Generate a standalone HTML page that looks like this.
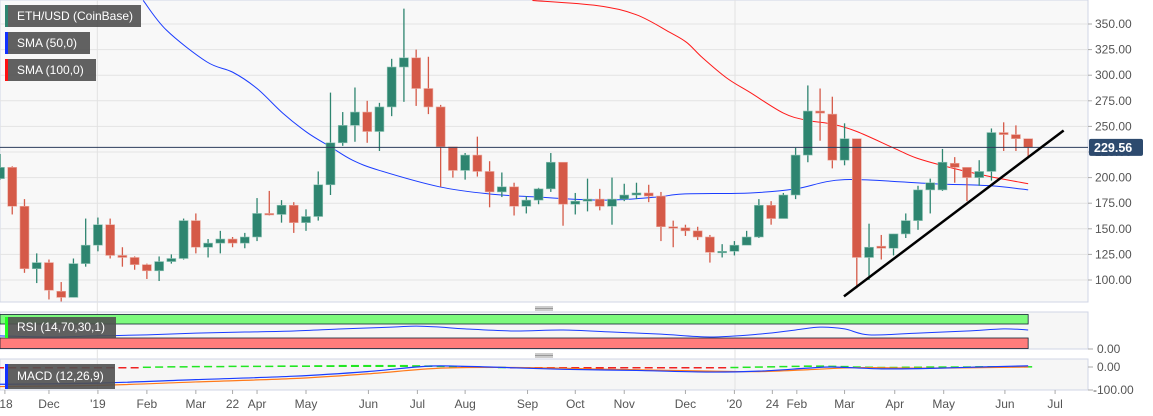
<!DOCTYPE html>
<html><head><meta charset="utf-8">
<style>
html,body{margin:0;padding:0;background:#fff;}
body{width:1153px;height:416px;overflow:hidden;position:relative;font-family:"Liberation Sans",sans-serif;}
svg{position:absolute;left:0;top:0;}
.lg{position:absolute;left:5px;height:22px;background:rgba(80,80,80,0.9);color:#fff;font-size:12px;line-height:22px;padding-left:12px;box-sizing:border-box;white-space:nowrap;overflow:hidden;}
.lg i{position:absolute;left:0;top:0;width:3px;height:100%;}
</style></head>
<body>
<svg id="chart" width="1153" height="416"></svg>
<div class="lg" style="top:5px;width:136px"><i style="background:#2e8570"></i>ETH/USD (CoinBase)</div>
<div class="lg" style="top:32px;width:85px"><i style="background:#1030ff"></i>SMA (50,0)</div>
<div class="lg" style="top:59px;width:91px"><i style="background:#ff1010"></i>SMA (100,0)</div>
<div class="lg" style="top:317px;width:111px;height:21px;line-height:21px"><i style="background:#20ff20"></i>RSI (14,70,30,1)</div>
<div class="lg" style="top:364px;width:110px;height:25px;line-height:25px"><i style="background:#1030ff"></i>MACD (12,26,9)</div>
<script>
const opens=[199,210,172,111,117,89,83,116,134,154,124,122,115,109,118,121,158,132,136,140,136,142,165,164,173,156,162,193,234,251,264,245,269,308,317,287,269,230,207,222,206,186,191,172,178,189,215,174,177,179,172,179,183,185,182,152,151,148,142,127,128,134,142,173,160,183,222,265,262,217,238,122,133,131,145,158,188,188,214,210,200,206,244,242,238];
const closes=[210,172,111,117,90,83,116,134,154,124,122,115,109,118,121,158,132,136,140,136,142,165,164,173,156,162,193,234,251,264,245,269,308,317,287,269,230,207,222,206,186,191,172,178,189,215,174,177,179,172,179,183,185,182,152,151,148,142,127,128,134,142,173,160,183,222,265,263,217,238,122,132,131,145,158,188,195,215,210,200,206,244,242,238,229.56];
const highs=[223,211,179,126,120,98,121,160,161,160,132,123,116,123,125,160,165,140,148,142,146,180,187,178,176,169,206,283,264,288,275,273,316,365,325,318,271,230,224,240,216,205,195,182,190,224,215,185,199,189,200,194,195,193,186,158,154,152,144,135,138,148,179,177,185,229,290,287,279,253,238,155,144,145,165,192,199,228,220,210,217,248,254,251,238];
const lows=[198,164,107,97,81,79,83,113,128,121,113,110,101,99,116,120,126,122,126,132,131,138,163,156,146,148,158,183,231,235,234,226,260,274,270,262,191,200,198,201,171,181,163,165,174,186,153,164,167,168,154,177,179,176,138,132,143,139,117,122,124,134,141,154,160,179,215,236,209,212,92,100,120,124,141,149,165,187,195,177,192,197,226,226,220];
const sma50Idx=[11.7,13.6,16.9,19.0,21.0,23.1,25.1,27.0,28.8,31.0,35.9,40.0,43.9,49.3,53.7,55.8,61.3,65.0,69.0,76.2,80.9,84];
const sma50Val=[373,344,313,303,287,263,244,230,217,207,191,184,181,178,181,184,185,189,198,194,192,188];
const sma100Idx=[43.5,48.8,52.0,54.7,56.1,57.4,59.4,61.3,64.0,65.9,68.1,70.0,73.0,74.9,77.9,80.9,84];
const sma100Val=[373,368,359,342,332,317,297,283,263,256,252,245,229,219,209,201,194];
const rsiIdx=[0,4,8,12,16,20,24,28,32,34,36,38,42,46,50,54,58,62,65,67,69,71,75,79,82,84];
const rsiVal=[36,33,36,39,44,47,50,56,61,64,61,56,50,53,47,41,33,41,53,61,56,39,44,50,56,53];
const macdIdx=[0,8,16,24,30,34,36,40,46,52,58,62,66,68,72,76,80,84];
const macdVal=[-75,-70,-55,-40,-20,0,5,0,-10,-15,-22,-18,-5,0,-8,-6,0,5];
const sigIdx=[0,8,16,24,30,36,42,50,58,62,66,70,76,84];
const sigVal=[-85,-80,-65,-50,-30,-5,-2,-10,-18,-20,-12,-3,-5,0];
const hist=[-3,-3,-3,-3,-3,-3,-3,-3,-3,-3,-2,-2,2,3,4,4,5,5,5,6,6,6,6,7,7,7,8,8,9,9,9,9,9,9,8,7,6,5,4,3,2,1,-1,-2,-3,-3,-4,-4,-4,-4,-4,-4,-4,-4,-5,-5,-5,-4,-3,-2,1,2,3,4,5,6,7,7,6,5,3,2,1,1,2,2,3,3,3,3,4,4,4,4,4];
const priceTicks=[100,125,150,175,200,225,250,275,300,325,350];
const xTickIdx=[0.4,4.0,8.0,12.0,16.0,19.0,21.0,25.0,30.1,34.1,38.0,43.1,47.0,51.0,56.0,60.0,63.1,65.1,69.0,73.1,77.1,82.1,86.2];
const xTickLbl=["'18","Dec","'19","Feb","Mar","22","Apr","May","Jun","Jul","Aug","Sep","Oct","Nov","Dec","'20","24","Feb","Mar","Apr","May","Jun","Jul"];
const yearIdx=[7.95,60.05];
const trendIdx=[68.95,86.9];const trendVal=[84,246];
const lastPrice=229.56;

const NS="http://www.w3.org/2000/svg";
const svg=document.getElementById('chart');
const PR=1088;
const X=i=>i*12.24;
const Y=p=>24+(350-p)*1.024;
const YR=v=>338-(v-30)*0.35;
const YM=v=>367-v*0.23;
function mk(tag,attrs,parent){const e=document.createElementNS(NS,tag);for(const k in attrs)e.setAttribute(k,attrs[k]);(parent||svg).appendChild(e);return e;}
function clip(id,y,h){const d=mk('clipPath',{id:id});mk('rect',{x:0,y:y,width:PR,height:h},d);}
clip('cm',0,302);clip('cr',312,37);clip('cq',359,31);
let e;
e=mk('rect',{x:0,y:0,width:PR,height:302,fill:'#f8f8f8',stroke:'#d0d6e6'});

e=mk('rect',{x:0,y:312,width:PR,height:37,fill:'#f6f6f6',stroke:'#d0d6e6'});

e=mk('rect',{x:0,y:359,width:PR,height:31,fill:'#f6f6f6',stroke:'#d0d6e6'});

[307,354].forEach(s=>{for(let k=0;k<3;k++){const l=mk('line',{x1:535,x2:553,y1:s+k*1.5,y2:s+k*1.5,stroke:'#777','stroke-width':0.8});}});
priceTicks.forEach(p=>{const l=mk('line',{x1:0,x2:PR,y1:Y(p),y2:Y(p),stroke:'#e3e3e3'});
 const t=mk('text',{x:1095,y:Y(p)+4,'font-size':12,fill:'#555'});t.textContent=p.toFixed(2);
 mk('line',{x1:PR,x2:PR+4,y1:Y(p),y2:Y(p),stroke:'#aaa'});});
yearIdx.forEach(i=>{const l=mk('line',{x1:X(i),x2:X(i),y1:0,y2:390,stroke:'#e2e2e2'});});
xTickIdx.forEach((i,k)=>{mk('line',{x1:X(i),x2:X(i),y1:390,y2:394,stroke:'#aaa'});
 const t=mk('text',{x:X(i),y:408,'font-size':12,fill:'#555','text-anchor':'middle'});t.textContent=xTickLbl[k];});
function line(idx,val,fy,color,w,cp,name){
 const P=idx.map((i,k)=>[X(i),fy(val[k])]);
 let d='M'+P[0][0]+','+P[0][1];
 for(let k=0;k<P.length-1;k++){const p0=P[Math.max(0,k-1)],p1=P[k],p2=P[k+1],p3=P[Math.min(P.length-1,k+2)];
  const c1=[p1[0]+(p2[0]-p0[0])/6,p1[1]+(p2[1]-p0[1])/6],c2=[p2[0]-(p3[0]-p1[0])/6,p2[1]-(p3[1]-p1[1])/6];
  d+=' C'+c1[0]+','+c1[1]+' '+c2[0]+','+c2[1]+' '+p2[0]+','+p2[1];}
 const pl=mk('path',{d:d,fill:'none',stroke:color,'stroke-width':w,'clip-path':cp});return pl;}
line(sma100Idx,sma100Val,Y,'#ff1a1a',1,'url(#cm)','sma-100-line');
line(sma50Idx,sma50Val,Y,'#1a3cff',1,'url(#cm)','sma-50-line');
const g=mk('g',{'clip-path':'url(#cm)'});

opens.forEach((o,i)=>{const c=closes[i];const up=c>=o;const col=up?'#2e8570':'#d55a48';const cx=X(i);
 mk('line',{x1:cx,x2:cx,y1:Y(highs[i]),y2:Y(lows[i]),stroke:col,'stroke-width':1.3},g);
 const top=Y(Math.max(o,c)),bot=Y(Math.min(o,c));
 const r=mk('rect',{x:cx-4.5,y:top,width:9,height:Math.max(1.5,bot-top),fill:col,stroke:up?'#8fc4b5':'#eba89d','stroke-width':0.6},g);
 });
e=mk('line',{x1:0,x2:PR,y1:Y(lastPrice),y2:Y(lastPrice),stroke:'#2c3e5c','stroke-width':1});

e=mk('rect',{x:1089,y:Y(lastPrice)-8.5,width:54,height:17,fill:'#2d4a6e',rx:2});

e=mk('text',{x:1094,y:Y(lastPrice)+4.5,'font-size':12.5,'font-weight':'bold',fill:'#fff'});e.textContent=lastPrice.toFixed(2);

e=mk('line',{x1:X(trendIdx[0]),y1:Y(trendVal[0]),x2:X(trendIdx[1]),y2:Y(trendVal[1]),stroke:'#000','stroke-width':2.5});

e=mk('rect',{x:0,y:YR(100)+1,width:X(84),height:YR(70)-YR(100)-1,fill:'#7dfa7d',stroke:'#123',"stroke-width":0.8});

e=mk('rect',{x:0,y:YR(30),width:X(84),height:YR(0)-YR(30),fill:'#ff7c7c',stroke:'#123',"stroke-width":0.8});

line(rsiIdx,rsiVal,YR,'#1a3cff',1,'url(#cr)','rsi-line');
mk('line',{x1:PR,x2:PR+5,y1:349,y2:349,stroke:'#aaa'});
e=mk('text',{x:1097,y:353,'font-size':12,fill:'#555'});e.textContent='0.00';
const hg=mk('g',{'clip-path':'url(#cq)'});
hist.forEach((v,i)=>{const y0=YM(0),y1=YM(v);const r=mk('rect',{x:X(i)-4,y:Math.min(y0,y1),width:8,height:Math.max(1.5,Math.abs(y1-y0)),fill:v>=0?'#22e622':'#ee2222'},hg);});
line(sigIdx,sigVal,YM,'#ff7a1a',1.2,'url(#cq)','macd-signal-line');
line(macdIdx,macdVal,YM,'#1a3cff',1.2,'url(#cq)','macd-line');
mk('line',{x1:PR,x2:PR+5,y1:367,y2:367,stroke:'#aaa'});mk('line',{x1:PR,x2:PR+5,y1:390,y2:390,stroke:'#aaa'});
e=mk('text',{x:1097,y:371,'font-size':12,fill:'#555'});e.textContent='0.00';
e=mk('text',{x:1093,y:394,'font-size':12,fill:'#555'});e.textContent='-100.00';
</script>
</body></html>
